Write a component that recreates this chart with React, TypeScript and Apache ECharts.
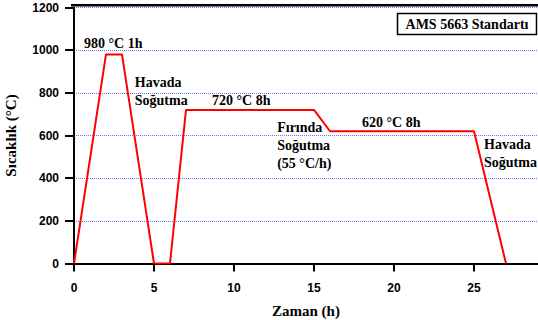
import React, { useEffect, useRef } from "react";
import * as echarts from "echarts";

// Heat-treatment cycle: time (h) vs temperature (°C)
const times = [0, 2, 3, 5, 6, 7, 15, 16, 25, 27];
const temps = [0, 980, 980, 0, 0, 720, 720, 620, 620, 0];

const xTicks = [0, 5, 10, 15, 20, 25];
const yTicks = [0, 200, 400, 600, 800, 1000, 1200];

// Step annotations, anchored (left / middle) in data coordinates
const notes: { text: string; at: [number, number] }[] = [
  { text: "980 °C 1h", at: [0.625, 1033] },
  { text: "Havada\nSoğutma", at: [3.8, 804] },
  { text: "720 °C 8h", at: [8.625, 762] },
  { text: "Fırında\nSoğutma\n(55 °C/h)", at: [12.7, 555] },
  { text: "620 °C 8h", at: [18, 663] },
  { text: "Havada\nSoğutma", at: [25.625, 516] },
];

const legendTitle = "AMS 5663 Standartı";

const SERIF = "'Liberation Serif', 'Times New Roman', serif";
const SANS = "'Liberation Sans', Arial, sans-serif";

export default function App() {
  const ref = useRef<HTMLDivElement>(null);

  useEffect(() => {
    if (!ref.current) return;
    const chart = echarts.init(ref.current, null, { renderer: "svg" });
    chart.setOption({
      animation: false,
      backgroundColor: "#ffffff",
      grid: {
        left: 74,
        right: 0,
        top: 7.5,
        bottom: 56.5,
        containLabel: false,
        outerBoundsMode: "none",
      },
      xAxis: {
        type: "value",
        min: 0,
        max: 29,
        interval: 5,
        offset: 4.5,
        name: "Zaman (h)",
        nameLocation: "middle",
        nameGap: 35,
        nameTextStyle: { fontFamily: SERIF, fontWeight: "bold", fontSize: 15, color: "#000" },
        axisLine: { show: true, lineStyle: { color: "#000", width: 2 } },
        axisTick: { show: true, length: 8, lineStyle: { color: "#000", width: 2 } },
        axisLabel: {
          margin: 14,
          fontFamily: SANS,
          fontWeight: "bold",
          fontSize: 12,
          color: "#000",
          showMaxLabel: false,
          formatter: (v: number) => (xTicks.includes(v) ? String(v) : ""),
        },
        splitLine: { show: false },
      },
      yAxis: {
        type: "value",
        min: 0,
        max: 1200,
        interval: 200,
        offset: 2,
        name: "Sıcaklık (°C)",
        nameLocation: "middle",
        nameGap: 54,
        nameRotate: 90,
        nameTextStyle: { fontFamily: SERIF, fontWeight: "bold", fontSize: 15, color: "#000" },
        axisLine: { show: true, lineStyle: { color: "#000", width: 2 } },
        axisTick: { show: true, length: 9, lineStyle: { color: "#000", width: 2 } },
        axisLabel: {
          margin: 13,
          fontFamily: SANS,
          fontWeight: "bold",
          fontSize: 12,
          color: "#000",
          formatter: (v: number) => (yTicks.includes(v) ? String(v) : ""),
        },
        splitLine: {
          show: true,
          lineStyle: { color: "#7070ff", width: 1, type: "dotted" },
        },
      },
      series: [
        {
          type: "line",
          data: times.map((t, i) => [t, temps[i]]),
          showSymbol: false,
          symbol: "none",
          lineStyle: { color: "#ff0000", width: 2 },
          z: 5,
        },
      ],
    });

    const texts = notes.map((n) => {
      const [px, py] = chart.convertToPixel({ gridIndex: 0 }, n.at) as number[];
      return {
        type: "text",
        x: px,
        y: py,
        z: 10,
        style: {
          text: n.text,
          fill: "#000",
          fontFamily: SERIF,
          fontWeight: "bold",
          fontSize: 14,
          lineHeight: 18,
          align: "left",
          verticalAlign: "middle",
          textAlign: "left",
          textVerticalAlign: "middle",
        },
      };
    });

    chart.setOption({
      graphic: [
        // top frame line
        {
          type: "line",
          z: 10,
          shape: { x1: 71, y1: 5.3, x2: 538, y2: 5.3 },
          style: { stroke: "#000", lineWidth: 2.5 },
        },
        // boxed title
        {
          type: "rect",
          z: 10,
          shape: { x: 397.5, y: 13.5, width: 139, height: 21 },
          style: { fill: "#fff", stroke: "#000", lineWidth: 1.5 },
        },
        {
          type: "text",
          z: 11,
          x: 467,
          y: 24.5,
          style: {
            text: legendTitle,
            fill: "#000",
            fontFamily: SERIF,
            fontWeight: "bold",
            fontSize: 14,
            align: "center",
            verticalAlign: "middle",
            textAlign: "center",
            textVerticalAlign: "middle",
          },
        },
        ...texts,
      ],
    });

    return () => chart.dispose();
  }, []);

  return (
    <div
      ref={ref}
      style={{ position: "fixed", left: 0, top: 0, width: 538, height: 320 }}
    />
  );
}
